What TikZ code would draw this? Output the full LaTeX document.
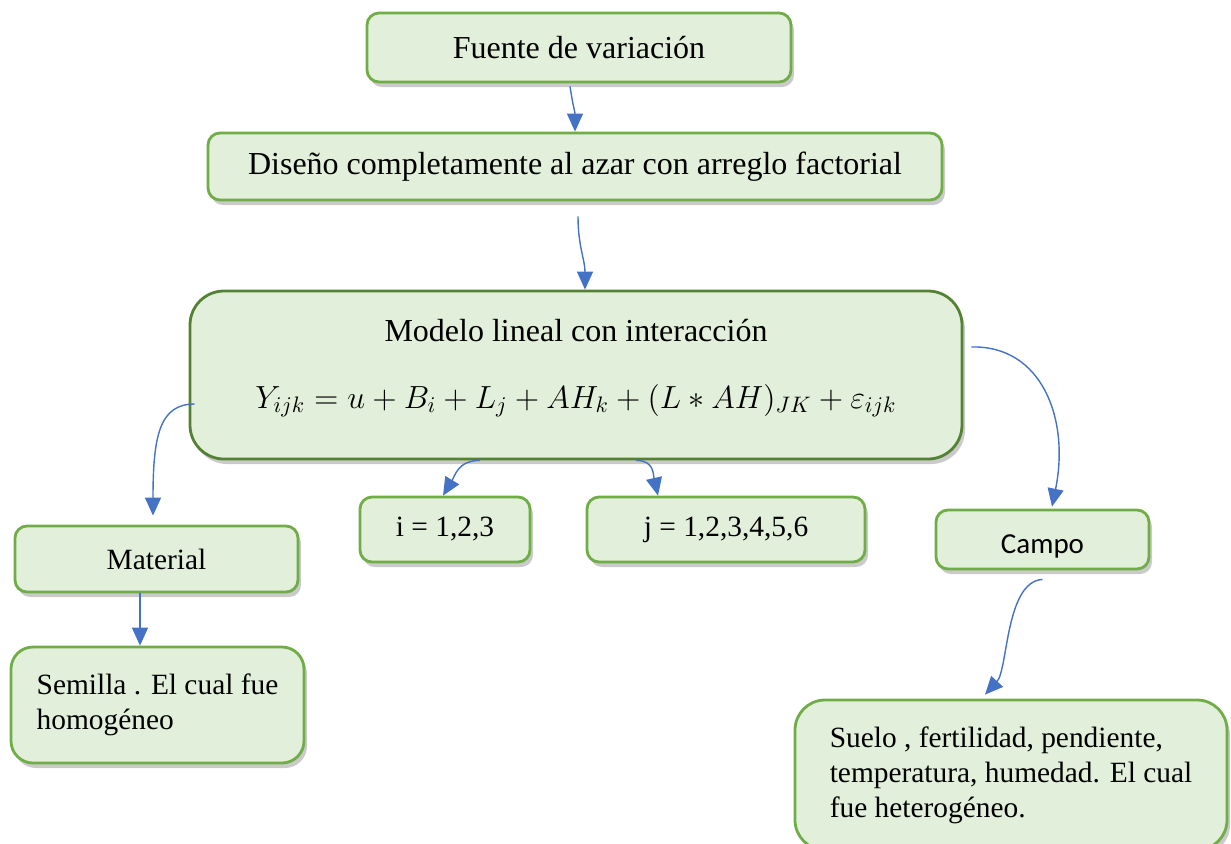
\RequirePackage{fix-cm}
\documentclass[tikz,border=0pt]{standalone}
\usepackage{fontspec}
\setmainfont{Liberation Serif}
\newfontfamily\campofont{Carlito}
\usepackage{xcolor}
\definecolor{cFill}{RGB}{226,239,218}
\definecolor{cEdge}{RGB}{112,173,71}
\definecolor{cEdgeDark}{RGB}{84,130,53}
\definecolor{cArrow}{RGB}{68,114,196}
\usetikzlibrary{arrows.meta, shadows}

\begin{document}
\begin{tikzpicture}[x=0.5pt, y=-0.5pt, font=\fontsize{16}{17.5}\selectfont,
    box/.style={draw=cEdge, fill=cFill, line width=1.4pt, rounded corners=6pt, inner sep=0pt,
      drop shadow={shadow xshift=1.5pt, shadow yshift=-2.5pt, opacity=0.42}},
    boxsm/.style={box, font=\fontsize{14.7}{17.5}\selectfont},
    ar/.style={cArrow, line width=0.7pt, -{Triangle[length=9pt,width=8pt]}}]
    \useasboundingbox (0,0) rectangle (1231,843);

    % ---------- top chain ----------
    \node[box, minimum width=212pt, minimum height=34.5pt] (fuente) at (579,47.5)
      {Fuente de variación};
    \node[box, minimum width=367pt, minimum height=33.5pt] (diseno) at (575,166.5)
      {Diseño completamente al azar con arreglo factorial};
    \node[box, draw=cEdgeDark, rounded corners=17pt, minimum width=386pt, minimum height=84pt,
      align=center] (modelo) at (576,375)
      {Modelo lineal con interacción\\[16pt]
       $Y_{ijk} = u + B_i + L_j + AH_k + (L \ast AH)_{JK} + \varepsilon_{ijk}$\hspace*{6pt}\\[-6pt]\mbox{}};

    % ---------- second row ----------
    \node[boxsm, minimum width=141.5pt, minimum height=33pt] (material) at (156.5,559) {Material};
    \node[boxsm, minimum width=85pt, minimum height=32.5pt] (ibox) at (445,529.5) {i = 1,2,3};
    \node[boxsm, minimum width=139pt, minimum height=32.5pt] (jbox) at (726,529.5) {j = 1,2,3,4,5,6};
    \node[box, minimum width=106.5pt, minimum height=29.5pt, text height=16pt,
      font=\campofont\fontsize{14.5}{17}\selectfont] (campo) at (1042.5,539.5) {Campo};

    % ---------- bottom row ----------
    \node[boxsm, rounded corners=11pt, minimum width=146.5pt, minimum height=58pt, align=left]
      (semilla) at (157.5,705) {Semilla . El cual fue\\homogéneo};
    \node[boxsm, rounded corners=15pt, minimum width=216pt, minimum height=75pt, align=left]
      (suelo) at (1011,775) {Suelo , fertilidad, pendiente,\\temperatura, humedad. El cual\\fue heterogéneo.};

    % ---------- connectors ----------
    \draw[ar] ([xshift=-4.5pt,yshift=-1.5pt]fuente.south) .. controls +(3,20) and +(0,-20) .. (diseno.north);
    \draw[ar] ([xshift=1.5pt,yshift=-7.5pt]diseno.south) .. controls +(0,30) and +(0,-30) .. ([xshift=4.5pt]modelo.north);
    \draw[ar] ([xshift=3pt,yshift=-14.5pt]modelo.west) .. controls +(-35,0) and +(0,-80)
      .. ([xshift=-1.75pt,yshift=4.5pt]material.north);
    \draw[ar] ([xshift=4pt,yshift=14pt]modelo.east) .. controls +(70,-2) and +(18,-88)
      .. ([xshift=4.75pt,yshift=1pt]campo.north);
    \draw[ar] ([xshift=-48pt]modelo.south) .. controls +(-22,0) and +(12,-20) .. ([xshift=-1pt]ibox.north);
    \draw[ar] ([xshift=30pt]modelo.south) .. controls +(18,0) and +(-5,-22) .. ([xshift=-34pt]jbox.north);
    \draw[ar] ([xshift=-8.25pt]material.south) -- ([xshift=-8.75pt]semilla.north);
    \draw[ar] ([yshift=-4.5pt]campo.south) .. controls +(-37,2) and +(23,-25) .. ([xshift=-13pt,yshift=2pt]suelo.north);

\end{tikzpicture}
\end{document}
